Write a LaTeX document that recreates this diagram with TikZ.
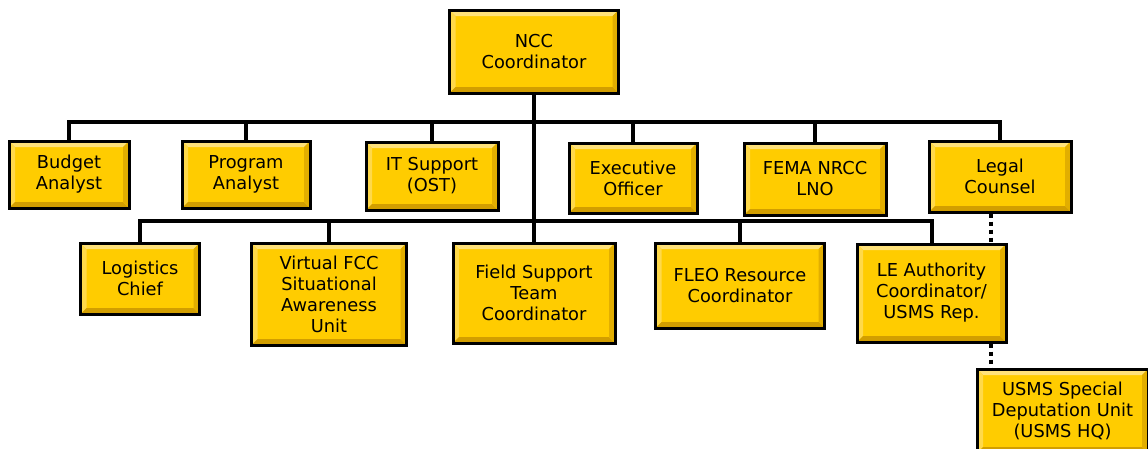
\documentclass[tikz,border=0pt]{standalone}
\usepackage{fontspec}
\setmainfont{DejaVu Sans}
\usetikzlibrary{calc,shadows}
\definecolor{gold}{HTML}{FFCC00}
\definecolor{goldlt}{HTML}{FFE27A}
\definecolor{goldlt2}{HTML}{FFD94A}
\definecolor{golddk}{HTML}{D29E00}
\definecolor{golddk2}{HTML}{E2AE00}
\tikzset{
  orgbox/.style={draw=black, line width=3pt, fill=gold, align=center,
    inner sep=0pt, font=\fontsize{17.8}{21}\selectfont,
    drop shadow={shadow xshift=1.2pt, shadow yshift=-1.6pt, fill=black!30, opacity=0.6},
    path picture={
      \coordinate (pnw) at (path picture bounding box.north west);
      \coordinate (pne) at (path picture bounding box.north east);
      \coordinate (psw) at (path picture bounding box.south west);
      \coordinate (pse) at (path picture bounding box.south east);
      \fill[goldlt] (pnw) -- (pne) -- ($(pne)+(-6pt,-6pt)$) -- ($(pnw)+(6pt,-6pt)$) -- cycle;
      \fill[goldlt2] (pnw) -- (psw) -- ($(psw)+(6pt,6pt)$) -- ($(pnw)+(6pt,-6pt)$) -- cycle;
      \fill[golddk] (psw) -- (pse) -- ($(pse)+(-6pt,6pt)$) -- ($(psw)+(6pt,6pt)$) -- cycle;
      \fill[golddk2] (pne) -- (pse) -- ($(pse)+(-6pt,6pt)$) -- ($(pne)+(-6pt,-6pt)$) -- cycle;
    }},
  conn/.style={draw=black, line width=4pt},
  dotconn/.style={draw=black, line width=4pt, dash pattern=on 4pt off 4pt},
}
\begin{document}
\begin{tikzpicture}[x=1pt,y=-1pt]
\useasboundingbox (0,0) rectangle (1148,448);
\clip (0,0) rectangle (1148,448);
\coordinate (b1) at (0,122);
\coordinate (b2) at (0,221);
\coordinate (dx) at (991,0);
% top
\node[orgbox, minimum width=169pt, minimum height=83pt] (ncc) at (534,51.5) {NCC\\Coordinator};
% row 1
\node[orgbox, minimum width=120pt, minimum height=67pt] (budget) at (69,174.5) {Budget\\Analyst};
\node[orgbox, minimum width=128pt, minimum height=67pt] (program) at (246,174.5) {Program\\Analyst};
\node[orgbox, minimum width=132pt, minimum height=68pt] (it) at (432,176) {IT Support\\(OST)};
\node[orgbox, minimum width=128pt, minimum height=70pt] (exec) at (633,178) {Executive\\Officer};
\node[orgbox, minimum width=142pt, minimum height=72pt] (fema) at (815,179) {FEMA NRCC\\LNO};
\node[orgbox, minimum width=142pt, minimum height=71pt] (legal) at (1000,176.5) {Legal\\Counsel};
% row 2
\node[orgbox, minimum width=119pt, minimum height=71pt] (logistics) at (140,278.5) {Logistics\\Chief};
\node[orgbox, minimum width=155pt, minimum height=102pt] (virtual) at (329,294) {Virtual FCC\\Situational\\Awareness\\Unit};
\node[orgbox, minimum width=162pt, minimum height=100pt] (field) at (534,293) {Field Support\\Team\\Coordinator};
\node[orgbox, minimum width=169pt, minimum height=85pt] (fleo) at (740,285.5) {FLEO Resource\\Coordinator};
\node[orgbox, minimum width=149pt, minimum height=98pt] (le) at (931.5,293) {LE Authority\\Coordinator/\\USMS Rep.};
\node[orgbox, minimum width=171pt, minimum height=84pt] (usms) at (1062.5,411) {USMS Special\\Deputation Unit\\(USMS HQ)};
% connectors
\draw[conn] (ncc.south) -- (field.north);
\draw[conn] (budget.north) |- (legal.north |- b1) -- (legal.north);
\draw[conn] (program.north) -- (program.north |- b1);
\draw[conn] (it.north) -- (it.north |- b1);
\draw[conn] (exec.north) -- (exec.north |- b1);
\draw[conn] (fema.north) -- (fema.north |- b1);
\draw[conn] (logistics.north) |- (le.north |- b2) -- (le.north);
\draw[conn] (virtual.north) -- (virtual.north |- b2);
\draw[conn] (fleo.north) -- (fleo.north |- b2);
\draw[dotconn] (legal.south -| dx) -- (le.north -| dx);
\draw[dotconn] (le.south -| dx) -- (usms.north -| dx);
\end{tikzpicture}
\end{document}
